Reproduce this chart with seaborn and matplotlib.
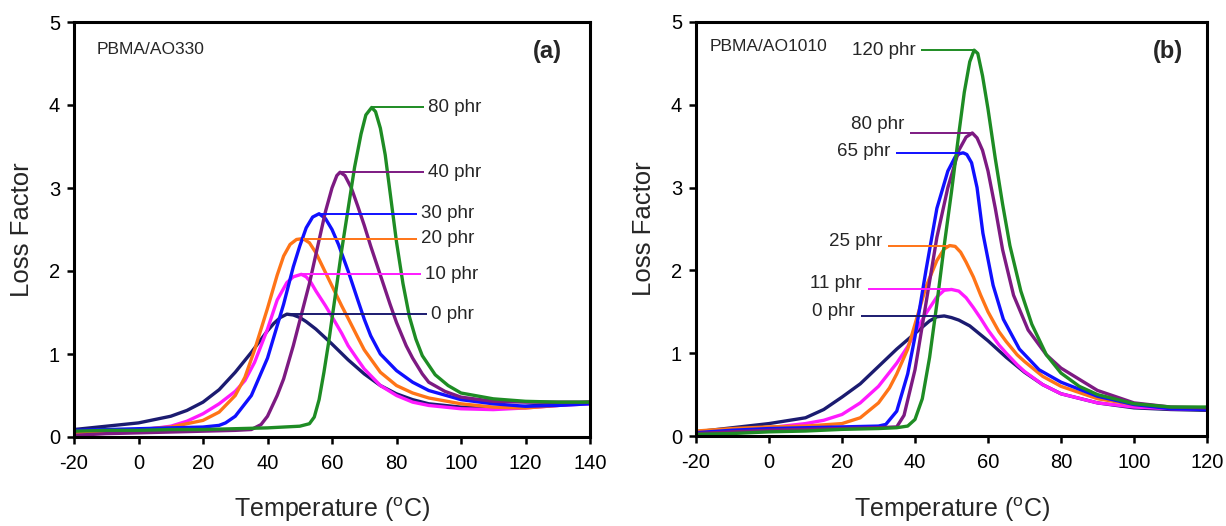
import numpy as np
import pandas as pd
import matplotlib
matplotlib.use("Agg")
import matplotlib.pyplot as plt
import seaborn as sns

# ---------------- data: panel (a) PBMA/AO330 ----------------
a_labels = ["0 phr", "10 phr", "20 phr", "30 phr", "40 phr", "80 phr"]
a0_x = [-20, -10, 0, 10, 15, 20, 25, 30, 35, 40, 42, 44, 46, 48, 50, 52, 55, 60, 65, 70, 75, 80, 85, 90, 100, 110, 120, 130, 140]
a0_y = [0.09, 0.13, 0.17, 0.25, 0.32, 0.42, 0.57, 0.78, 1.02, 1.28, 1.37, 1.44, 1.48, 1.47, 1.44, 1.39, 1.30, 1.12, 0.93, 0.76, 0.62, 0.52, 0.45, 0.40, 0.36, 0.35, 0.37, 0.40, 0.42]
a10_x = [-20, -10, 0, 10, 15, 20, 25, 30, 33, 36, 40, 43, 46, 48, 50.5, 52, 53.5, 55, 58, 60, 63, 65, 68, 70, 75, 80, 85, 90, 100, 110, 120, 130, 140]
a10_y = [0.03, 0.05, 0.08, 0.13, 0.19, 0.28, 0.40, 0.55, 0.68, 0.90, 1.30, 1.65, 1.86, 1.93, 1.96, 1.93, 1.86, 1.76, 1.58, 1.45, 1.25, 1.10, 0.93, 0.82, 0.62, 0.50, 0.42, 0.38, 0.34, 0.33, 0.35, 0.38, 0.40]
a20_x = [-20, -10, 0, 10, 20, 25, 30, 33, 36, 40, 43, 45, 47, 49, 51, 53, 55, 58, 60, 63, 65, 68, 70, 75, 80, 85, 90, 100, 110, 120, 130, 140]
a20_y = [0.05, 0.07, 0.09, 0.12, 0.20, 0.30, 0.50, 0.72, 1.05, 1.55, 1.95, 2.18, 2.32, 2.38, 2.39, 2.34, 2.22, 1.98, 1.82, 1.58, 1.43, 1.20, 1.05, 0.78, 0.62, 0.53, 0.47, 0.40, 0.36, 0.35, 0.38, 0.42]
a30_x = [-20, -10, 0, 10, 20, 25, 27, 30, 35, 40, 45, 48, 50, 52, 54, 56, 58, 60, 62, 65, 68, 70, 72, 75, 80, 85, 90, 100, 110, 120, 130, 140]
a30_y = [0.08, 0.09, 0.10, 0.11, 0.12, 0.14, 0.17, 0.25, 0.50, 0.95, 1.60, 2.05, 2.30, 2.52, 2.65, 2.69, 2.63, 2.50, 2.32, 2.00, 1.65, 1.42, 1.22, 1.00, 0.80, 0.66, 0.56, 0.45, 0.40, 0.37, 0.38, 0.40]
a40_x = [-20, -10, 0, 10, 20, 30, 35, 38, 40, 43, 45, 48, 50, 53, 55, 58, 60, 61.5, 62.5, 64, 66, 68, 70, 72, 75, 78, 80, 83, 85, 88, 90, 95, 100, 110, 120, 130, 140]
a40_y = [0.02, 0.04, 0.05, 0.06, 0.07, 0.08, 0.09, 0.15, 0.25, 0.50, 0.70, 1.10, 1.40, 1.85, 2.20, 2.72, 3.00, 3.15, 3.19, 3.15, 3.00, 2.78, 2.55, 2.30, 1.95, 1.60, 1.38, 1.10, 0.95, 0.76, 0.66, 0.55, 0.48, 0.43, 0.42, 0.42, 0.42]
a80_x = [-20, -10, 0, 10, 20, 30, 40, 45, 50, 53, 54.5, 56, 57.5, 59, 61, 63, 65, 67, 69, 70.5, 72.3, 73.5, 75, 76.5, 78, 80, 82, 84, 86, 88, 92, 96, 100, 110, 120, 130, 140]
a80_y = [0.07, 0.08, 0.08, 0.09, 0.09, 0.10, 0.11, 0.12, 0.13, 0.16, 0.24, 0.45, 0.78, 1.15, 1.70, 2.25, 2.75, 3.25, 3.65, 3.88, 3.97, 3.92, 3.72, 3.40, 2.95, 2.35, 1.85, 1.45, 1.18, 0.98, 0.75, 0.62, 0.53, 0.46, 0.43, 0.42, 0.42]
a_leader_end = [89.5, 87.5, 86.5, 86.5, 88.5, 88.5]

# ---------------- data: panel (b) PBMA/AO1010 ----------------
b_labels = ["0 phr", "11 phr", "25 phr", "65 phr", "80 phr", "120 phr"]
b0_x = [-20, -10, 0, 10, 15, 20, 25, 30, 35, 40, 44, 46, 48, 50, 52, 55, 60, 65, 70, 75, 80, 90, 100, 110, 120]
b0_y = [0.05, 0.10, 0.15, 0.22, 0.32, 0.47, 0.63, 0.84, 1.05, 1.24, 1.39, 1.44, 1.45, 1.43, 1.40, 1.33, 1.15, 0.95, 0.77, 0.62, 0.51, 0.40, 0.34, 0.32, 0.31]
b11_x = [-20, -10, 0, 10, 15, 20, 25, 30, 35, 38, 40, 43, 46, 48, 50, 52, 54, 56, 58, 60, 63, 65, 68, 70, 75, 80, 90, 100, 110, 120]
b11_y = [0.03, 0.06, 0.10, 0.15, 0.19, 0.26, 0.40, 0.60, 0.88, 1.08, 1.25, 1.48, 1.68, 1.76, 1.77, 1.75, 1.67, 1.55, 1.42, 1.28, 1.10, 1.00, 0.86, 0.78, 0.62, 0.51, 0.40, 0.35, 0.33, 0.32]
b25_x = [-20, -10, 0, 10, 20, 25, 30, 33, 35, 38, 40, 43, 46, 48, 49.5, 51, 52.5, 54, 56, 58, 60, 63, 65, 68, 70, 75, 80, 90, 100, 110, 120]
b25_y = [0.06, 0.09, 0.11, 0.12, 0.15, 0.22, 0.40, 0.58, 0.75, 1.05, 1.35, 1.80, 2.12, 2.26, 2.30, 2.29, 2.22, 2.10, 1.92, 1.70, 1.50, 1.26, 1.14, 0.98, 0.90, 0.72, 0.60, 0.45, 0.38, 0.34, 0.33]
b65_x = [-20, -10, 0, 10, 20, 30, 32, 35, 38, 40, 43, 46, 49, 51, 52.2, 53.2, 54.2, 55.5, 57, 58.6, 61.4, 64.2, 68.6, 74, 80, 90, 100, 110, 120]
b65_y = [0.04, 0.07, 0.09, 0.10, 0.11, 0.12, 0.14, 0.30, 0.75, 1.20, 2.00, 2.75, 3.20, 3.37, 3.41, 3.42, 3.40, 3.30, 3.00, 2.45, 1.82, 1.41, 1.05, 0.80, 0.65, 0.48, 0.38, 0.33, 0.32]
b80_x = [-20, -10, 0, 10, 20, 30, 35, 37, 40, 43, 46, 49, 52, 54, 55.7, 57, 58.5, 60, 62, 64, 67, 71, 76, 80, 90, 100, 110, 120]
b80_y = [0.03, 0.05, 0.07, 0.08, 0.09, 0.10, 0.11, 0.25, 0.80, 1.60, 2.40, 3.00, 3.45, 3.61, 3.66, 3.60, 3.45, 3.20, 2.75, 2.25, 1.70, 1.28, 0.98, 0.82, 0.55, 0.40, 0.35, 0.34]
b120_x = [-20, -10, 0, 10, 20, 30, 35, 38, 40, 42, 44, 46, 48, 50, 52, 53.5, 55, 56.2, 57.2, 58.5, 60, 62, 64, 66, 69, 72, 76, 80, 85, 90, 100, 110, 120]
b120_y = [0.02, 0.03, 0.05, 0.06, 0.08, 0.09, 0.10, 0.12, 0.20, 0.45, 0.95, 1.60, 2.30, 2.95, 3.65, 4.15, 4.52, 4.66, 4.62, 4.35, 3.95, 3.35, 2.80, 2.30, 1.75, 1.35, 0.98, 0.76, 0.60, 0.50, 0.39, 0.35, 0.35]
b_leader_start = [25.2, 27.1, 32.6, 34.8, 38.7, 41.7]
b_label_dy = [0.05, 0.07, 0.05, 0.02, 0.10, 0.0]

colors = ["#1b1b70", "#ff1aff", "#ff7417", "#1010ff", "#7d1a82", "#1e8c24"]

# ---------------- style ----------------
sns.set_style("ticks")
plt.rcParams["font.family"] = ["Liberation Sans", "DejaVu Sans"]
plt.rcParams["mathtext.fontset"] = "custom"
plt.rcParams["mathtext.rm"] = "Liberation Sans"
plt.rcParams["axes.unicode_minus"] = False

fig = plt.figure(figsize=(12.26, 5.26), dpi=100)
W, H = 1226, 526
axA = fig.add_axes([74 / W, 1 - 437 / H, 516 / W, 415 / H])
axB = fig.add_axes([696 / W, 1 - 436 / H, 511 / W, 414 / H])


def make_df(xs, ys, labels):
    frames = []
    for x, y, lab in zip(xs, ys, labels):
        frames.append(pd.DataFrame({"T": x, "LF": y, "sample": lab}))
    return pd.concat(frames, ignore_index=True)


dfA = make_df([a0_x, a10_x, a20_x, a30_x, a40_x, a80_x],
              [a0_y, a10_y, a20_y, a30_y, a40_y, a80_y], a_labels)
dfB = make_df([b0_x, b11_x, b25_x, b65_x, b80_x, b120_x],
              [b0_y, b11_y, b25_y, b65_y, b80_y, b120_y], b_labels)

for ax, df, labels in [(axA, dfA, a_labels), (axB, dfB, b_labels)]:
    sns.lineplot(data=df, x="T", y="LF", hue="sample", hue_order=labels,
                 palette=colors, estimator=None, sort=False, legend=False,
                 lw=2.4, ax=ax)
    for ln in ax.get_lines():
        ln.set_solid_joinstyle("round")

# leader lines + labels, panel (a)
for lab, col, end in zip(a_labels, colors, a_leader_end):
    sub = dfA[dfA["sample"] == lab]
    i = sub["LF"].idxmax()
    xp, yp = sub.loc[i, "T"], sub.loc[i, "LF"]
    axA.plot([xp, end], [yp, yp], color=col, lw=1.4, solid_capstyle="butt")
    axA.text(end + 1.2, yp, lab, fontsize=13.5, ha="left", va="center")

# leader lines + labels, panel (b)
for lab, col, start, dy in zip(b_labels, colors, b_leader_start, b_label_dy):
    sub = dfB[dfB["sample"] == lab]
    i = sub["LF"].idxmax()
    xp, yp = sub.loc[i, "T"], sub.loc[i, "LF"]
    axB.plot([start, xp], [yp, yp], color=col, lw=1.4, solid_capstyle="butt")
    axB.text(start - 1.6, yp + dy, lab, fontsize=13.5, ha="right", va="center")

axA.text(-13, 4.67, "PBMA/AO330", fontsize=12.5, ha="left", va="center")
axA.text(131.2, 4.64, "(a)", fontsize=17, fontweight="bold", ha="right", va="center")
axB.text(-16.4, 4.70, "PBMA/AO1010", fontsize=12.5, ha="left", va="center")
axB.text(113.4, 4.64, "(b)", fontsize=17, fontweight="bold", ha="right", va="center")

for ax, xmax in [(axA, 140), (axB, 120)]:
    ax.set_xlim(-20, xmax)
    ax.set_ylim(0, 5)
    ax.set_xticks(list(range(-20, xmax + 1, 20)))
    ax.set_yticks([0, 1, 2, 3, 4, 5])
    for s in ax.spines.values():
        s.set_linewidth(2.2)
        s.set_color("black")
    ax.tick_params(axis="both", direction="out", length=5, width=1.8,
                   labelsize=14.5, top=False, right=False, colors="black")
    ax.tick_params(axis="x", pad=7)
    ax.tick_params(axis="y", pad=5)
    ax.set_xlabel("Temperature ($^{\\mathrm{o}}$C)", fontsize=18)
    ax.set_ylabel("Loss Factor", fontsize=18.5)
    ax.xaxis.label.set_va("center")
    ax.yaxis.label.set_va("center")

axA.xaxis.set_label_coords(0.5, -0.176)
axA.yaxis.set_label_coords(-0.101, 0.5)
axB.xaxis.set_label_coords(0.5, -0.178)
axB.yaxis.set_label_coords(-0.102, 0.5)

fig.savefig("out.png", dpi=100)
